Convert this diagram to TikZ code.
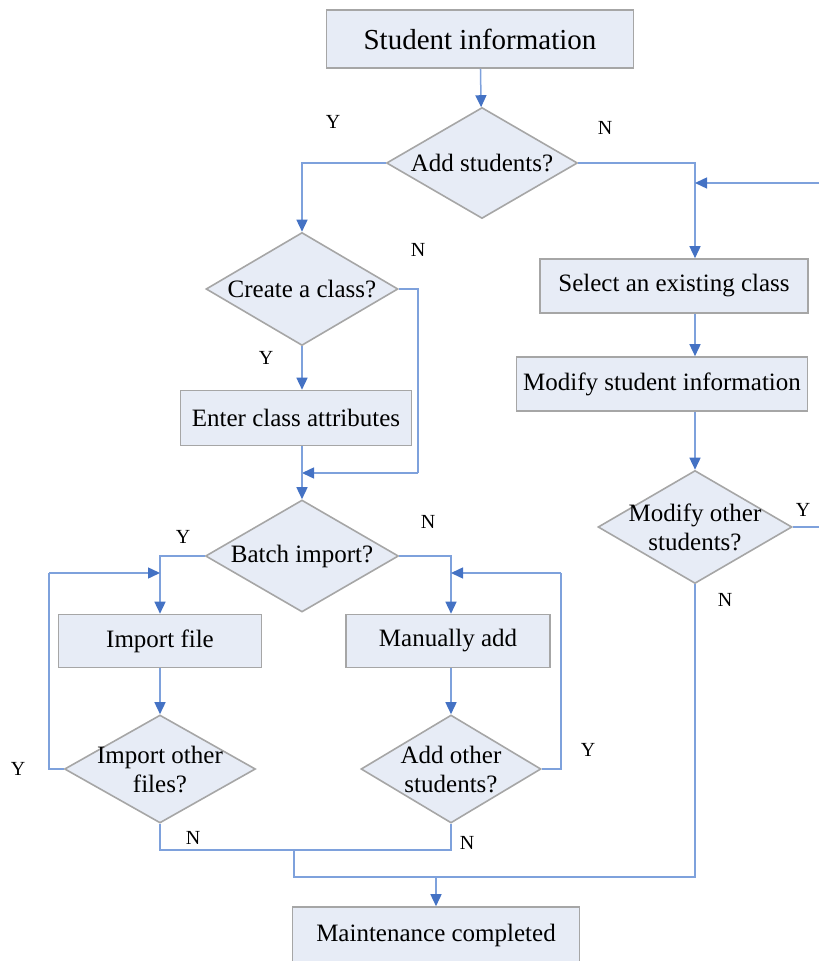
\documentclass[tikz,border=0pt]{standalone}
\usepackage{fontspec}
\setmainfont{Liberation Serif}
\usetikzlibrary{shapes.geometric,arrows.meta}
\definecolor{boxfill}{HTML}{E7ECF6}
\definecolor{boxline}{HTML}{A6A6A6}
\definecolor{linkblue}{HTML}{7EA1DC}
\definecolor{tipblue}{HTML}{4472C4}
\begin{document}
\begin{tikzpicture}[
    % GLOBAL CFG
    x=0.5pt, y=-0.5pt,
    font=\fontsize{12.5}{14.5}\selectfont,
    % Styles
    stepbox/.style={% For the process boxes
        rectangle,
        draw=boxline,
        fill=boxfill,
        line width=0.8pt,
        inner sep=0pt,
        },
    decision/.style={% For the questions
        diamond,
        aspect=1.75,
        draw=boxline,
        fill=boxfill,
        line width=0.8pt,
        inner sep=0pt,
        align=center,
        },
    twoline/.style={% Questions on two lines
        inner xsep=-8pt,
        inner ysep=-2pt,
        },
    yn/.style={% Y and N marks
        font=\fontsize{10}{12}\selectfont,
        inner sep=0pt,
        },
    link/.style={% Plain connectors
        draw=linkblue,
        line width=0.75pt,
        },
    linkarrow/.style={% Connectors with a tip
        link,
        -{Triangle[length=6pt,width=5.5pt,color=tipblue]},
        },
    ]
\useasboundingbox (0,0) rectangle (819,961);

%Start drawing the thing...
    % Boxes and questions
    \node [stepbox, minimum width=153.5pt, minimum height=29pt, font=\fontsize{14.5}{17}\selectfont] (info) at (480,39) {Student information};
    \node [decision, minimum width=95.5pt, minimum height=55.5pt] (addq) at (482,163) {Add students?};
    \node [decision, minimum width=96pt, minimum height=56.5pt] (classq) at (302,289) {Create a class?};
    \node [stepbox, minimum width=115.5pt, minimum height=27.5pt] (attr) at (296,418) {Enter class attributes};
    \node [decision, minimum width=96.5pt, minimum height=56pt] (batchq) at (302,556) {Batch import?};
    % left loop
    \node [stepbox, minimum width=101.5pt, minimum height=26.5pt] (importf) at (160,641) {Import file};
    \node [decision, twoline, minimum width=95.5pt, minimum height=54pt] (importq) at (160,769) {Import other\\files?};
    % right loop
    \node [stepbox, minimum width=102pt, minimum height=26.5pt] (manual) at (448,641) {Manually add};
    \node [decision, twoline, minimum width=90pt, minimum height=54pt] (addq2) at (451,769) {Add other\\students?};
    % modify branch
    \node [stepbox, minimum width=134pt, minimum height=27pt] (select) at (674,286) {Select an existing class};
    \node [stepbox, minimum width=145.5pt, minimum height=27pt] (modinfo) at (662,384) {Modify student information};
    \node [decision, twoline, minimum width=97pt, minimum height=56.5pt] (modq) at (695,527) {Modify other\\students?};
    % end
    \node [stepbox, minimum width=143.5pt, minimum height=28pt] (done) at (436,935) {Maintenance completed};

    % Y and N marks
    \node [yn] (yadd) at (333,122) {Y};
    \node [yn] (nadd) at (605,128) {N};
    \node [yn] (nclass) at (418,250) {N};
    \node [yn] (yclass) at (266,358) {Y};
    \node [yn] (ybatch) at (183,537) {Y};
    \node [yn] (nbatch) at (428,522) {N};
    \node [yn] (yimport) at (18,769) {Y};
    \node [yn] (ymanual) at (588,750) {Y};
    \node [yn] (nimport) at (193,838) {N};
    \node [yn] (nmanual) at (467,843) {N};
    \node [yn] (ymod) at (803,510) {Y};
    \node [yn] (nmod) at (725,600) {N};

    % Free ends and bends
    \coordinate (rcol) at (695,0);
    \coordinate (backin) at (819,183);
    \coordinate (backout) at (819,527);
    \coordinate (nbend) at (418,473);
    \coordinate (lloop) at (49,573);
    \coordinate (rloop) at (561,573);
    \coordinate (j1) at (294,850);
    \coordinate (j2) at (294,877);

% Start connecting all.
    \draw [linkarrow] (info) -- (addq);
    \draw [linkarrow] (addq.west) -| (classq.north);
    \draw [linkarrow] (addq.east) -| (rcol |- select.north);
    \draw [linkarrow] (backin) -- (rcol |- backin);
    \draw [linkarrow] (rcol |- select.south) -- (rcol |- modinfo.north);
    \draw [linkarrow] (rcol |- modinfo.south) -- (modq.north);
    \draw [link] (modq.east) -- (backout);

    \draw [linkarrow] (classq.south) -- (classq.south |- attr.north);
    \draw [link] (classq.east) -| (nbend);
    \draw [linkarrow] (nbend) -- (nbend -| batchq.north);
    \draw [linkarrow] (classq.south |- attr.south) -- (batchq.north);

    \draw [linkarrow] (batchq.west) -| (importf.north);
    \draw [linkarrow] (batchq.east) -| (addq2.north |- manual.north);
    \draw [linkarrow] (importf.south) -- (importq.north);
    \draw [linkarrow] (addq2.north |- manual.south) -- (addq2.north);

    % loops
    \draw [link] (importq.west) -| (lloop);
    \draw [linkarrow] (lloop) -- (lloop -| importf.north);
    \draw [link] (addq2.east) -| (rloop);
    \draw [linkarrow] (rloop) -- (rloop -| addq2.north);

    % joins
    \draw [link] (importq.south) |- (j1);
    \draw [link] (addq2.south) |- (j1);
    \draw [link] (j1) -- (j2) -- (modq.south |- j2) -- (modq.south);
    \draw [linkarrow] (done.north |- j2) -- (done.north);
\end{tikzpicture}
\end{document}
